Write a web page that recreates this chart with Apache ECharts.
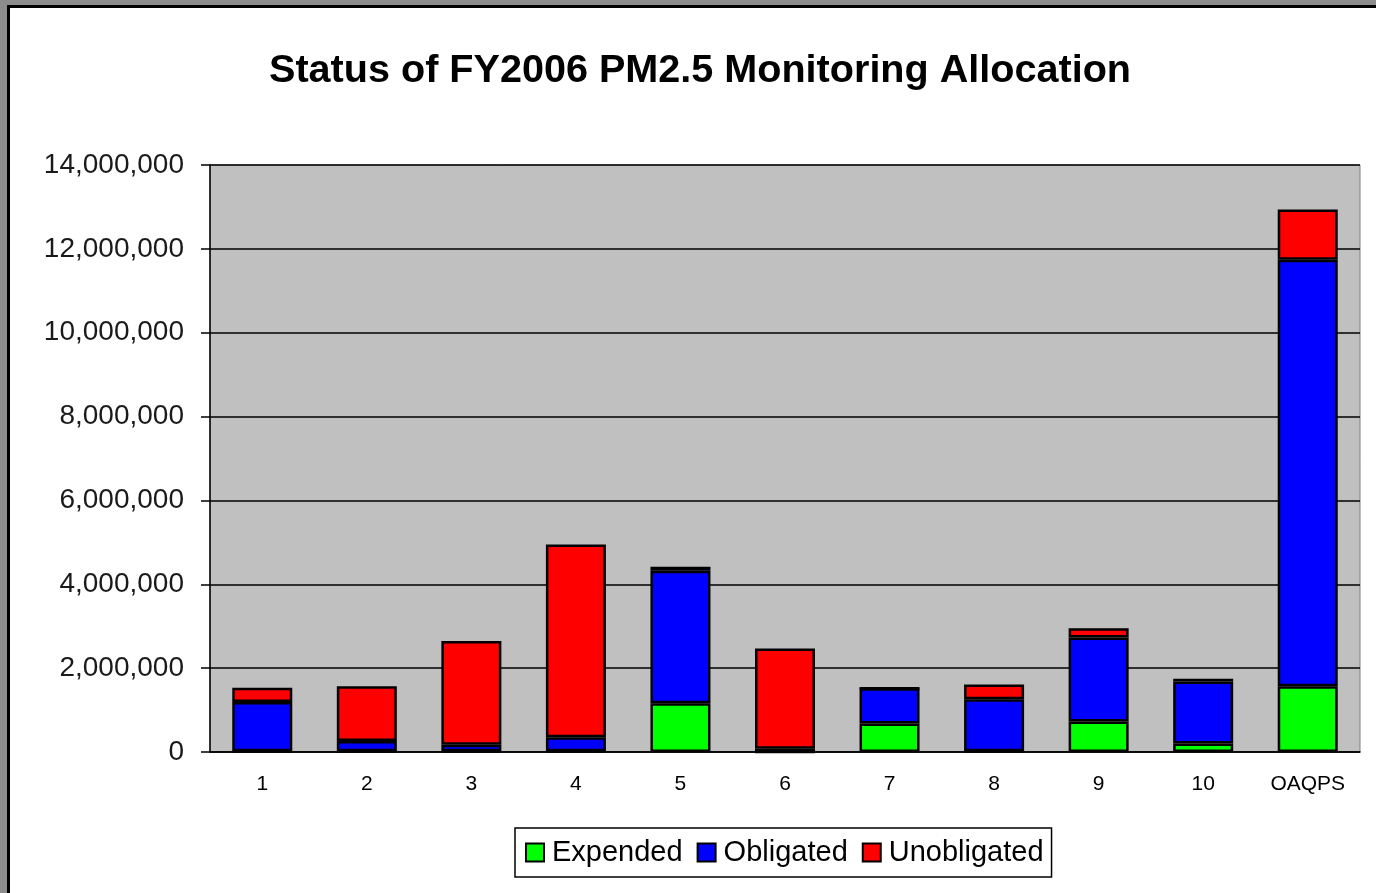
<!DOCTYPE html>
<html lang="en">
<head>
    <meta charset="UTF-8">
    <title>Status of FY2006 PM2.5 Monitoring Allocation</title>
    <script src="https://cdn.jsdelivr.net/npm/echarts@6/dist/echarts.min.js"></script>
    <style>
        body { margin: 0; background: #8c8c8c; }
        #chart {
            position: absolute; left: 7px; top: 5px; width: 1369px; height: 888px;
            box-sizing: border-box; background: #fff;
            border-left: 3px solid #000; border-top: 3px solid #000;
        }
    </style>
</head>
<body>
<div id="chart"></div>
<script type="text/javascript">
    // regions + OAQPS
    var categories = ['1', '2', '3', '4', '5', '6', '7', '8', '9', '10', 'OAQPS'];
    var expended = [20000, 20000, 20000, 20000, 1160000, 0, 680000, 20000, 730000, 200000, 1570000];
    var obligated = [1170000, 240000, 150000, 330000, 3160000, 80000, 840000, 1240000, 2000000, 1480000, 10170000];
    var unobligated = [340000, 1310000, 2480000, 4600000, 100000, 2390000, 0, 350000, 220000, 70000, 1200000];

    var font = '"Liberation Sans", Arial, sans-serif';

    function makeSeries(name, data, color) {
        return {
            name: name,
            type: 'bar',
            stack: 'total',
            barWidth: 60,
            data: data,
            itemStyle: { color: color, borderColor: '#000', borderWidth: 2.5 }
        };
    }

    var chart = echarts.init(document.getElementById('chart'));
    chart.setOption({
        animation: false,
        title: {
            text: 'Status of FY2006 PM2.5 Monitoring Allocation',
            left: 254,
            top: 38,
            textStyle: { fontFamily: font, fontSize: 39.6, fontWeight: 'bold', color: '#000' }
        },
        legend: {
            left: 505,
            top: 820,
            padding: [10, 8, 10, 10],
            itemGap: 14,
            itemWidth: 18,
            itemHeight: 18,
            icon: 'rect',
            borderColor: '#000',
            borderWidth: 1.5,
            backgroundColor: '#fff',
            textStyle: { fontFamily: font, fontSize: 29, color: '#000', padding: [0, 0, 0, 3] }
        },
        grid: {
            left: 200, right: 16, top: 157, bottom: 141,
            show: true, backgroundColor: '#c0c0c0', borderColor: '#808080', borderWidth: 1
        },
        xAxis: {
            type: 'category',
            data: categories,
            axisLine: { lineStyle: { color: '#000', width: 1.5 } },
            axisTick: { length: 8, interval: 0, lineStyle: { color: '#000', width: 1.5 } },
            axisLabel: { margin: 22, fontFamily: font, fontSize: 21, color: '#000' }
        },
        yAxis: {
            type: 'value',
            min: 0,
            max: 14000000,
            interval: 2000000,
            axisLine: { show: true, lineStyle: { color: '#000', width: 1.5 } },
            axisTick: { show: true, length: 9, lineStyle: { color: '#000', width: 1.5 } },
            axisLabel: {
                margin: 26, fontFamily: font, fontSize: 28, color: '#1a1a1a',
                formatter: function (v) { return v.toLocaleString('en-US'); }
            },
            splitLine: { lineStyle: { color: '#000', width: 1.5 } }
        },
        series: [
            makeSeries('Expended', expended, '#00ff00'),
            makeSeries('Obligated', obligated, '#0000ff'),
            makeSeries('Unobligated', unobligated, '#ff0000')
        ]
    });
</script>
</body>
</html>
